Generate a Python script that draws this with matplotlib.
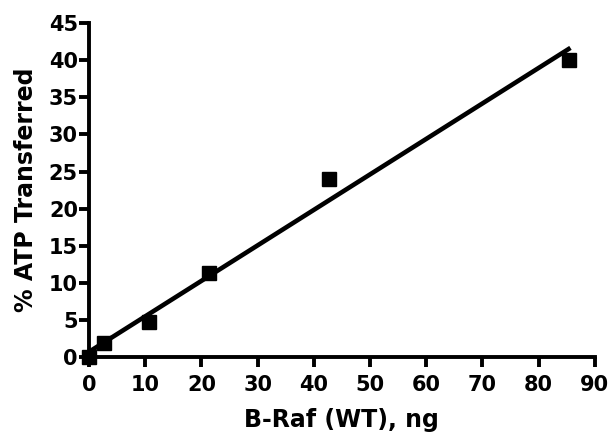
import numpy as np
import matplotlib.pyplot as plt

plt.rcParams['font.family'] = ['DejaVu Sans']
plt.rcParams['font.weight'] = 'bold'

# data
braf_ng = [0, 2.67, 10.67, 21.33, 42.67, 85.33]
atp_pct = [0, 1.9, 4.7, 11.3, 24.0, 40.1]
x_ticks = list(range(0, 91, 10))
y_ticks = list(range(0, 46, 5))

fig = plt.figure(figsize=(6.1, 4.37), dpi=100)
ax = fig.add_axes([0.146, 0.183, 0.829, 0.764])

# linear fit
slope, icept = np.polyfit(braf_ng, atp_pct, 1)
xf = np.array([0, max(braf_ng)])
ax.plot(xf, slope * xf + icept, color='black', lw=3.3, clip_on=False, zorder=2)

ax.plot(braf_ng, atp_pct, 's', color='black', ms=10, clip_on=False, zorder=3)

ax.set_xlim(0, 90)
ax.set_ylim(0, 45)
ax.set_xticks(x_ticks)
ax.set_yticks(y_ticks)

for s in ['top', 'right']:
    ax.spines[s].set_visible(False)
for s in ['left', 'bottom']:
    ax.spines[s].set_linewidth(2.8)

ax.tick_params(width=2.8, length=7, labelsize=15)
ax.tick_params(axis='x', pad=6)
ax.tick_params(axis='y', pad=1)
for lbl in ax.get_xticklabels() + ax.get_yticklabels():
    lbl.set_fontweight('bold')

ax.set_xlabel('B-Raf (WT), ng', fontsize=17, fontweight='bold', labelpad=9)
ax.set_ylabel('% ATP Transferred', fontsize=17, fontweight='bold', labelpad=8)

fig.savefig('out.png', dpi=100)
